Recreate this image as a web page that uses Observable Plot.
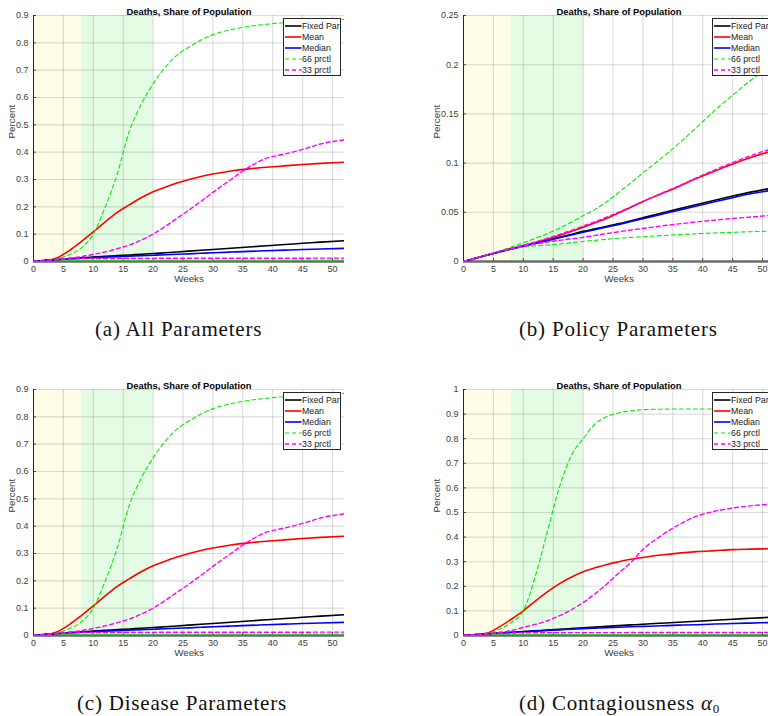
<!DOCTYPE html>
<html><head><meta charset="utf-8">
<script src="https://cdn.jsdelivr.net/npm/d3@7"></script>
<script src="https://cdn.jsdelivr.net/npm/@observablehq/plot@0.6"></script>
<style>
html,body{margin:0;padding:0;background:#fff;}
body{width:768px;height:716px;position:relative;overflow:hidden;font-family:"Liberation Sans",Arial,sans-serif;}
.panel{position:absolute;width:384px;height:300px;overflow:hidden;}
.panel svg{max-width:none !important;}
.cap{position:absolute;font-family:"Liberation Serif","Times New Roman",serif;font-size:21px;letter-spacing:0.8px;color:#111;white-space:nowrap;line-height:1;}
.cap sub{font-size:13px;letter-spacing:0;vertical-align:-0.25em;line-height:0;}
</style></head>
<body>
<div id="pa" class="panel" style="left:0;top:0"></div>
<div id="pb" class="panel" style="left:384px;top:0"></div>
<div id="pc" class="panel" style="left:0;top:375px"></div>
<div id="pd" class="panel" style="left:384px;top:375px"></div>
<div class="cap" style="left:95px;top:319px">(a) All Parameters</div>
<div class="cap" style="left:519px;top:319px">(b) Policy Parameters</div>
<div class="cap" style="left:77px;top:693px">(c) Disease Parameters</div>
<div class="cap" style="left:519px;top:693px">(d) Contagiousness <i>α</i><sub>0</sub></div>
<script>
// ---- shared axis data ----
const weeks = [0,2,4,6,8,10,12,14,16,18,20,22,24,26,28,30,33,36,39,42,45,48,52];
const xTicks = [0,5,10,15,20,25,30,35,40,45,50];
const yTicks09 = [0,0.1,0.2,0.3,0.4,0.5,0.6,0.7,0.8,0.9];
const yTicks025 = [0,0.05,0.1,0.15,0.2,0.25];
const yTicks1 = [0,0.1,0.2,0.3,0.4,0.5,0.6,0.7,0.8,0.9,1];
const phaseStart = [0,8];
const phaseEnd = [8,20];
const legendLabels = ["Fixed Par","Mean","Median","66 prctl","33 prctl"];
const chartTitle = "Deaths, Share of Population";

// ---- (a) All Parameters ----
const aFixed  = [0,0.004,0.007,0.010,0.013,0.016,0.019,0.0215,0.024,0.0265,0.029,0.032,0.035,0.038,0.041,0.044,0.0485,0.053,0.0575,0.062,0.0665,0.071,0.076];
const aMean   = [0,0.003,0.014,0.040,0.073,0.108,0.145,0.180,0.207,0.233,0.255,0.272,0.287,0.300,0.311,0.320,0.331,0.339,0.345,0.350,0.355,0.359,0.363];
const aMedian = [0,0.004,0.007,0.010,0.012,0.014,0.016,0.018,0.0198,0.0215,0.023,0.0248,0.0265,0.028,0.030,0.032,0.0345,0.037,0.0393,0.0415,0.0437,0.0458,0.048];
const aP66hi  = [0,0.002,0.010,0.025,0.050,0.100,0.200,0.320,0.475,0.575,0.650,0.710,0.755,0.785,0.810,0.830,0.848,0.860,0.868,0.874,0.879,0.883,0.886];
const aP66lo  = [0,0.001,0.002,0.003,0.0035,0.004,0.004,0.004,0.0042,0.0042,0.0044,0.0044,0.0045,0.0045,0.0046,0.0046,0.0047,0.0047,0.0048,0.0048,0.0049,0.0049,0.005];
const aP33hi  = [0,0.003,0.008,0.013,0.018,0.026,0.035,0.047,0.060,0.078,0.100,0.128,0.158,0.188,0.220,0.253,0.300,0.345,0.378,0.393,0.410,0.430,0.445];
const aP33lo  = [0,0.004,0.007,0.009,0.010,0.011,0.011,0.0112,0.0114,0.0115,0.0116,0.0117,0.0118,0.0118,0.0119,0.0119,0.012,0.012,0.012,0.0121,0.0121,0.0122,0.0122];

// ---- (b) Policy Parameters ----
const bFixed  = [0,0.0033,0.0066,0.0098,0.0128,0.0156,0.0186,0.0215,0.0245,0.0275,0.0306,0.0332,0.0358,0.0385,0.0415,0.0445,0.049,0.0535,0.058,0.0622,0.0665,0.0705,0.075];
const bMean   = [0,0.0034,0.0068,0.0102,0.0133,0.016,0.0193,0.0227,0.0265,0.0305,0.0347,0.0393,0.044,0.0495,0.0552,0.061,0.0686,0.0763,0.0845,0.0918,0.099,0.1057,0.113];
const bMedian = [0,0.0033,0.0066,0.0098,0.0128,0.0155,0.0184,0.0212,0.0241,0.027,0.0298,0.0324,0.035,0.0377,0.0406,0.0435,0.0478,0.0522,0.0565,0.0607,0.0648,0.0688,0.0728];
const bP66hi  = [0,0.0035,0.007,0.0107,0.0148,0.019,0.0235,0.0283,0.0338,0.0398,0.0465,0.053,0.061,0.0705,0.080,0.090,0.1045,0.120,0.1365,0.1535,0.169,0.184,0.201];
const bP66lo  = [0,0.0034,0.0068,0.010,0.0128,0.0146,0.0158,0.0167,0.0178,0.019,0.0204,0.0215,0.0226,0.0236,0.0245,0.0252,0.0263,0.0273,0.0282,0.029,0.0297,0.0303,0.031];
const bP33hi  = [0,0.0034,0.0068,0.0102,0.0134,0.0165,0.0198,0.0235,0.0275,0.0315,0.036,0.0405,0.0452,0.0502,0.0555,0.061,0.069,0.0768,0.0852,0.093,0.1005,0.1075,0.1155];
const bP33lo  = [0,0.0034,0.0068,0.010,0.0128,0.0155,0.0178,0.0198,0.0215,0.023,0.0245,0.0265,0.0284,0.0302,0.032,0.0336,0.036,0.0382,0.0402,0.042,0.0437,0.0452,0.0472];

// ---- (c) Disease Parameters ----
const cFixed  = [0,0.004,0.007,0.010,0.013,0.016,0.019,0.0215,0.024,0.0265,0.029,0.032,0.035,0.038,0.041,0.044,0.0485,0.053,0.0575,0.062,0.0665,0.071,0.076];
const cMean   = [0,0.003,0.014,0.040,0.073,0.108,0.145,0.180,0.207,0.233,0.255,0.272,0.287,0.300,0.311,0.320,0.331,0.339,0.345,0.350,0.355,0.359,0.363];
const cMedian = [0,0.004,0.007,0.010,0.012,0.014,0.016,0.018,0.0198,0.0215,0.023,0.0248,0.0265,0.028,0.030,0.032,0.0345,0.037,0.0393,0.0415,0.0437,0.0458,0.048];
const cP66hi  = [0,0.002,0.010,0.025,0.050,0.100,0.200,0.320,0.475,0.575,0.650,0.710,0.755,0.785,0.810,0.830,0.848,0.860,0.868,0.874,0.879,0.883,0.886];
const cP66lo  = [0,0.001,0.002,0.003,0.0035,0.004,0.004,0.004,0.0042,0.0042,0.0044,0.0044,0.0045,0.0045,0.0046,0.0046,0.0047,0.0047,0.0048,0.0048,0.0049,0.0049,0.005];
const cP33hi  = [0,0.003,0.008,0.013,0.018,0.026,0.035,0.047,0.060,0.078,0.100,0.128,0.158,0.188,0.220,0.253,0.300,0.345,0.378,0.393,0.410,0.430,0.445];
const cP33lo  = [0,0.004,0.007,0.009,0.010,0.011,0.011,0.0112,0.0114,0.0115,0.0116,0.0117,0.0118,0.0118,0.0119,0.0119,0.012,0.012,0.012,0.0121,0.0121,0.0122,0.0122];

// ---- (d) Contagiousness alpha0 ----
const dFixed  = [0,0.004,0.007,0.010,0.013,0.016,0.019,0.022,0.025,0.028,0.031,0.034,0.037,0.040,0.043,0.046,0.050,0.054,0.058,0.062,0.066,0.070,0.075];
const dMean   = [0,0.003,0.010,0.035,0.066,0.100,0.140,0.177,0.210,0.237,0.259,0.275,0.289,0.300,0.310,0.317,0.327,0.335,0.341,0.345,0.349,0.351,0.353];
const dMedian = [0,0.004,0.007,0.010,0.0125,0.015,0.0178,0.0205,0.023,0.0255,0.028,0.030,0.032,0.0338,0.0355,0.037,0.0395,0.042,0.044,0.0465,0.0485,0.0505,0.053];
const dP66hi  = [0,0.002,0.008,0.025,0.053,0.100,0.240,0.420,0.600,0.730,0.800,0.860,0.890,0.905,0.913,0.918,0.920,0.921,0.921,0.921,0.921,0.921,0.920];
const dP66lo  = [0,0.001,0.002,0.003,0.0035,0.004,0.004,0.004,0.0042,0.0042,0.0044,0.0044,0.0045,0.0045,0.0046,0.0046,0.0047,0.0047,0.0048,0.0048,0.0049,0.0049,0.005];
const dP33hi  = [0,0.003,0.008,0.013,0.020,0.033,0.045,0.060,0.080,0.104,0.134,0.170,0.210,0.255,0.297,0.350,0.405,0.450,0.485,0.505,0.518,0.527,0.535];
const dP33lo  = [0,0.004,0.007,0.009,0.010,0.011,0.011,0.0112,0.0114,0.0115,0.0116,0.0117,0.0118,0.0118,0.0119,0.0119,0.012,0.012,0.012,0.0121,0.0121,0.0122,0.0122];

// ---- styles (kept apart from the data) ----
const phaseFill = ["#fffde6", "#e3fce3"];
const lineStyle = {
  fixed:  {stroke:"#000000", strokeWidth:1.6},
  mean:   {stroke:"#ff0000", strokeWidth:1.6},
  median: {stroke:"#0000ff", strokeWidth:1.6},
  p66:    {stroke:"#00ee00", strokeWidth:1.1, strokeDasharray:"4,3"},
  p33:    {stroke:"#ff00ff", strokeWidth:1.4, strokeDasharray:"4,3"}
};
const legendKeys = ["fixed","mean","median","p66","p33"];
const FONT = "'Liberation Sans', Arial, Helvetica, sans-serif";
const INK = "#262626";

function seriesRows(vals){ return weeks.map((w,i)=>({week:w, value:vals[i]})); }

function makePanel(el, cfg){
  const phases = phaseStart.map((s,i)=>({start:s, end:phaseEnd[i], fill:phaseFill[i]}));
  const ymax = cfg.yTicks[cfg.yTicks.length-1];
  const lines = [
    ["fixed", cfg.fixed], ["mean", cfg.mean], ["median", cfg.median],
    ["p66", cfg.p66hi], ["p66", cfg.p66lo], ["p33", cfg.p33hi], ["p33", cfg.p33lo]
  ];
  const chart = Plot.plot({
    width: cfg.width, height: 300,
    marginLeft: cfg.ml, marginRight: cfg.mr, marginTop: cfg.mt, marginBottom: cfg.mb,
    x: {domain:[0,52]},
    y: {domain:[0,ymax]},
    style: {fontFamily: FONT, background:"transparent", color: INK, overflow:"visible", maxWidth:"none"},
    marks: [
      Plot.rect(phases, {x1:"start", x2:"end", y1:0, y2:ymax, fill:"fill"}),
      Plot.gridX({ticks: xTicks, stroke: INK, strokeOpacity:0.16, strokeWidth:1.1}),
      Plot.gridY({ticks: cfg.yTicks, stroke: INK, strokeOpacity:0.16, strokeWidth:1.1}),
      Plot.axisX({ticks: xTicks, tickFormat: d=>String(d), tickSize:0, tickPadding:4, fontSize:9, label:null, fill:"#404040"}),
      Plot.axisY({ticks: cfg.yTicks, tickFormat: d=>String(d), tickSize:0, tickPadding:5, fontSize:9, label:null, fill:"#404040"}),
      Plot.ruleX([0], {stroke: INK, strokeWidth:1}),
      Plot.ruleX(xTicks, {y1:0, y2:0, insetTop:-3, stroke: INK, strokeWidth:0.8}),
      Plot.ruleY(cfg.yTicks, {x1:0, x2:0, insetRight:-3, stroke: INK, strokeWidth:0.8}),
      Plot.ruleY([0], {stroke:"#6a6a6a", strokeWidth:2.4}),
      ...lines.map(([k,v]) => Plot.line(seriesRows(v), {x:"week", y:"value", curve:"monotone-x", clip:true, ...lineStyle[k]})),
      Plot.text([chartTitle], {text:d=>d, frameAnchor:"top", dy:-6.8, fontWeight:"bold", fontSize:9.4, fill:"#000"}),
      Plot.text(["Weeks"], {text:d=>d, frameAnchor:"bottom", dy:20, fontSize:9.8, fill:"#404040"}),
      Plot.text(["Percent"], {text:d=>d, frameAnchor:"left", dx:cfg.pdx, rotate:-90, fontSize:9.8, fill:"#404040"})
    ]
  });
  chart.style.maxWidth = "none";
  el.appendChild(chart);
  // legend box (MATLAB style, top-right inside the axes)
  const lg = d3.select(el).append("svg")
    .style("position","absolute").style("left", cfg.lx+"px").style("top", cfg.ly+"px")
    .attr("width", 58).attr("height", 58);
  lg.append("rect").attr("x",0.5).attr("y",0.5).attr("width",57).attr("height",57)
    .attr("fill","#fff").attr("stroke",INK).attr("stroke-width",1);
  legendKeys.forEach((k,i)=>{
    const y = 8 + i*11;
    const st = lineStyle[k];
    lg.append("line").attr("x1",2).attr("x2",18.5).attr("y1",y).attr("y2",y)
      .attr("stroke",st.stroke).attr("stroke-width",st.strokeWidth)
      .attr("stroke-dasharray", st.strokeDasharray || null);
    lg.append("text").attr("x",19).attr("y",y).attr("dy","0.35em")
      .attr("font-family",FONT).attr("font-size",8.8).attr("fill","#222").text(legendLabels[i]);
  });
}

makePanel(document.getElementById("pa"), {width:384, ml:33, mr:40, mt:15, mb:39, pdx:-22, lx:283, ly:18,
  yTicks:yTicks09, fixed:aFixed, mean:aMean, median:aMedian, p66hi:aP66hi, p66lo:aP66lo, p33hi:aP33hi, p33lo:aP33lo});
makePanel(document.getElementById("pb"), {width:400, ml:79, mr:10, mt:15, mb:39, pdx:-27, lx:328, ly:18,
  yTicks:yTicks025, fixed:bFixed, mean:bMean, median:bMedian, p66hi:bP66hi, p66lo:bP66lo, p33hi:bP33hi, p33lo:bP33lo});
makePanel(document.getElementById("pc"), {width:384, ml:33, mr:40, mt:14, mb:40, pdx:-22, lx:283, ly:17,
  yTicks:yTicks09, fixed:cFixed, mean:cMean, median:cMedian, p66hi:cP66hi, p66lo:cP66lo, p33hi:cP33hi, p33lo:cP33lo});
makePanel(document.getElementById("pd"), {width:400, ml:79, mr:10, mt:14, mb:40, pdx:-27, lx:328, ly:17,
  yTicks:yTicks1, fixed:dFixed, mean:dMean, median:dMedian, p66hi:dP66hi, p66lo:dP66lo, p33hi:dP33hi, p33lo:dP33lo});
</script>
</body></html>
